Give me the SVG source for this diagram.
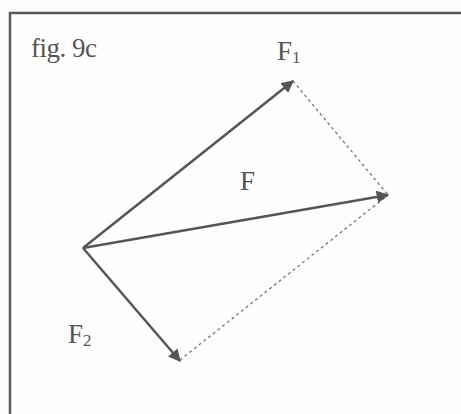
<svg xmlns="http://www.w3.org/2000/svg" width="461" height="414" viewBox="0 0 461 414">
<style>
.vec{stroke:#555;stroke-width:2.5;fill:none}
.dash{stroke:#777;stroke-width:1.3;fill:none;stroke-dasharray:3 3}
.lbl{font-family:"Liberation Serif","Times New Roman",serif;fill:#555;font-size:27px}
.sub{font-size:17px}
</style>
<defs>
<marker id="ah" viewBox="0 0 10 10" refX="9" refY="5" markerWidth="5" markerHeight="5" markerUnits="strokeWidth" orient="auto">
<path d="M0,0 L10,5 L0,10 z" fill="#555"/>
</marker>
</defs>
<rect x="0" y="0" width="461" height="414" fill="#fcfcfa"/>
<rect x="10" y="13" width="460" height="420" fill="#fefefd" stroke="#5a5a5a" stroke-width="2.5"/>
<g id="connectors">
<path class="dash" d="M293,81 L388,195"/>
<path class="dash" d="M180,360 L388,195"/>
<path class="vec" d="M83,248 L293,81" marker-end="url(#ah)"/>
<path class="vec" d="M83,248 L388,195" marker-end="url(#ah)"/>
<path class="vec" d="M83,248 L180,361" marker-end="url(#ah)"/>
</g>
<g id="title"><text class="lbl" x="31" y="57" letter-spacing="-0.5">fig. 9c</text></g>
<g id="F1"><text class="lbl" x="277" y="60">F<tspan class="sub" dy="3">1</tspan></text></g>
<g id="F"><text class="lbl" x="240" y="190">F</text></g>
<g id="F2"><text class="lbl" x="68" y="343">F<tspan class="sub" dy="3">2</tspan></text></g>
</svg>
